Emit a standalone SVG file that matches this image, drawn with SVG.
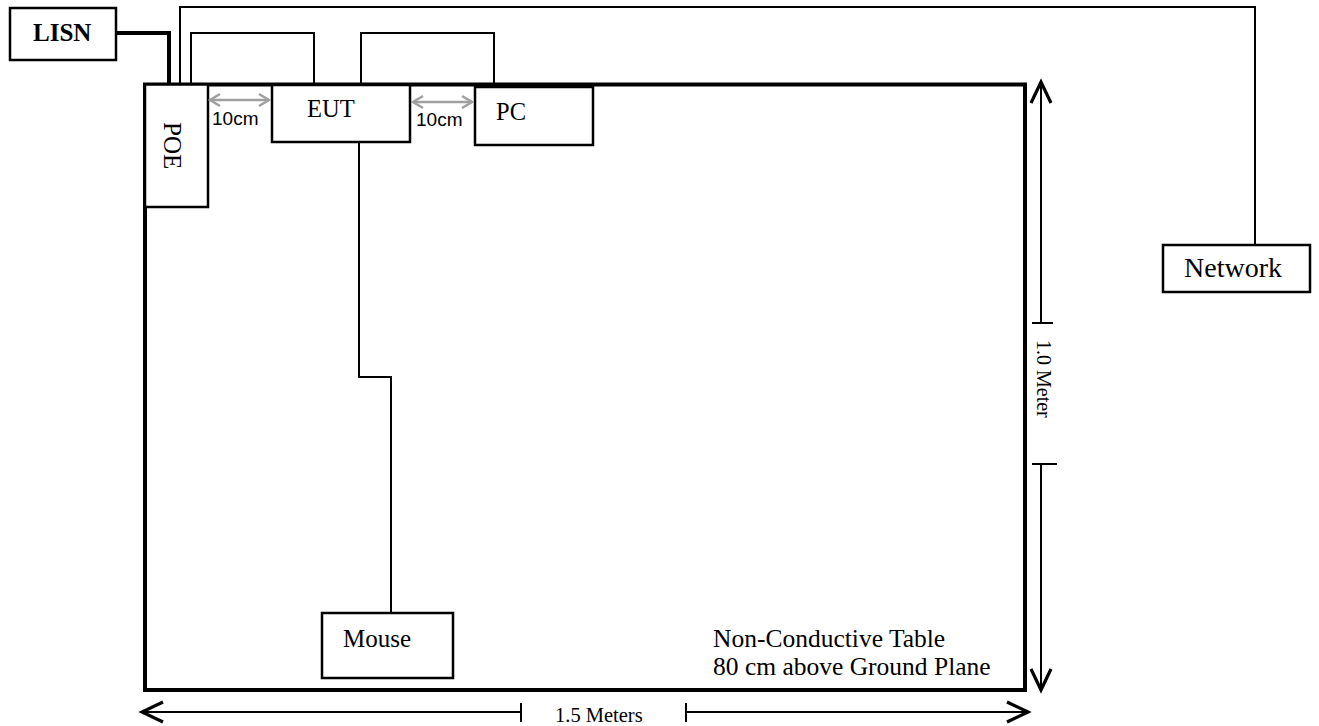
<svg xmlns="http://www.w3.org/2000/svg" width="1319" height="726" viewBox="0 0 1319 726">
<style>
.bg{fill:#fff}
.box{fill:#fff;stroke:#000;stroke-width:2.5}
.table{fill:none;stroke:#000;stroke-width:4}
.wire{fill:none;stroke:#000;stroke-width:2}
.thick{fill:none;stroke:#000;stroke-width:4}
.dim{fill:none;stroke:#000;stroke-width:2}
.gap{fill:none;stroke:#a0a0a0;stroke-width:2.5}
.t{font-family:"Liberation Serif","Times New Roman",serif;fill:#000}
.a{font-family:"Liberation Sans",Arial,sans-serif;fill:#000}
</style>
<defs>
<marker id="ah" viewBox="-3 -13 28 26" refX="21" refY="0" markerWidth="28" markerHeight="26" markerUnits="userSpaceOnUse" orient="auto-start-reverse">
<path d="M0,-10 L21,0 L0,10" fill="none" stroke="#000" stroke-width="3.2"/>
</marker>
<marker id="gh" viewBox="-2 -8 14 16" refX="10" refY="0" markerWidth="14" markerHeight="16" markerUnits="userSpaceOnUse" orient="auto-start-reverse">
<path d="M0,-6 L10,0 L0,6" fill="none" stroke="#a0a0a0" stroke-width="2.5"/>
</marker>
</defs>
<rect class="bg" x="0" y="0" width="1319" height="726"/>

<g id="connectors">
<path class="thick" d="M116,33 H169 V84"/>
<path class="wire" d="M180,84 V7 H1255 V245"/>
<path class="wire" d="M191,84 V33 H314 V84"/>
<path class="wire" d="M361,84 V33 H494 V84"/>
<path class="wire" d="M359,142 V377 H391 V613"/>
</g>

<g id="table">
<rect class="table" x="145" y="84.5" width="880" height="605.5"/>
<text class="t" x="713" y="647" font-size="25.5">Non-Conductive Table</text>
<text class="t" x="713" y="675" font-size="25.5">80 cm above Ground Plane</text>
</g>

<g id="lisn">
<rect class="box" x="10" y="8" width="106" height="52"/>
<text class="t" x="33" y="41" font-size="25" font-weight="bold">LISN</text>
</g>

<g id="poe">
<rect class="box" x="145" y="84.5" width="63" height="122.5"/>
<text class="t" font-size="25" transform="translate(164,122) rotate(90)">POE</text>
</g>

<g id="eut">
<rect class="box" x="272" y="85" width="138" height="57"/>
<text class="t" x="307" y="117" font-size="24.5">EUT</text>
</g>

<g id="pc">
<rect class="box" x="475" y="87" width="118" height="58"/>
<text class="t" x="496" y="120" font-size="24.5">PC</text>
</g>

<g id="mouse">
<rect class="box" x="322" y="613" width="131" height="65"/>
<text class="t" x="343" y="647" font-size="25">Mouse</text>
</g>

<g id="network">
<rect class="box" x="1163" y="245" width="147" height="47"/>
<text class="t" x="1184" y="277" font-size="28">Network</text>
</g>

<g id="gaps">
<line class="gap" x1="210" y1="100" x2="269" y2="100" marker-start="url(#gh)" marker-end="url(#gh)"/>
<text class="a" x="212" y="125" font-size="19">10cm</text>
<line class="gap" x1="413" y1="102" x2="472" y2="102" marker-start="url(#gh)" marker-end="url(#gh)"/>
<text class="a" x="416" y="126" font-size="19">10cm</text>
</g>

<g id="dimensions">
<line class="dim" x1="1041" y1="82" x2="1041" y2="323" marker-start="url(#ah)"/>
<line class="dim" x1="1032" y1="323" x2="1053" y2="323"/>
<line class="dim" x1="1041" y1="464" x2="1041" y2="690" marker-end="url(#ah)"/>
<line class="dim" x1="1032" y1="464" x2="1057" y2="464"/>
<text class="t" font-size="20" transform="translate(1037,340) rotate(90)">1.0 Meter</text>

<line class="dim" x1="142" y1="712" x2="521" y2="712" marker-start="url(#ah)"/>
<line class="dim" x1="521" y1="703" x2="521" y2="722"/>
<line class="dim" x1="686" y1="712" x2="1028" y2="712" marker-end="url(#ah)"/>
<line class="dim" x1="686" y1="703" x2="686" y2="722"/>
<text class="t" x="555" y="722" font-size="20.5">1.5 Meters</text>
</g>
</svg>
